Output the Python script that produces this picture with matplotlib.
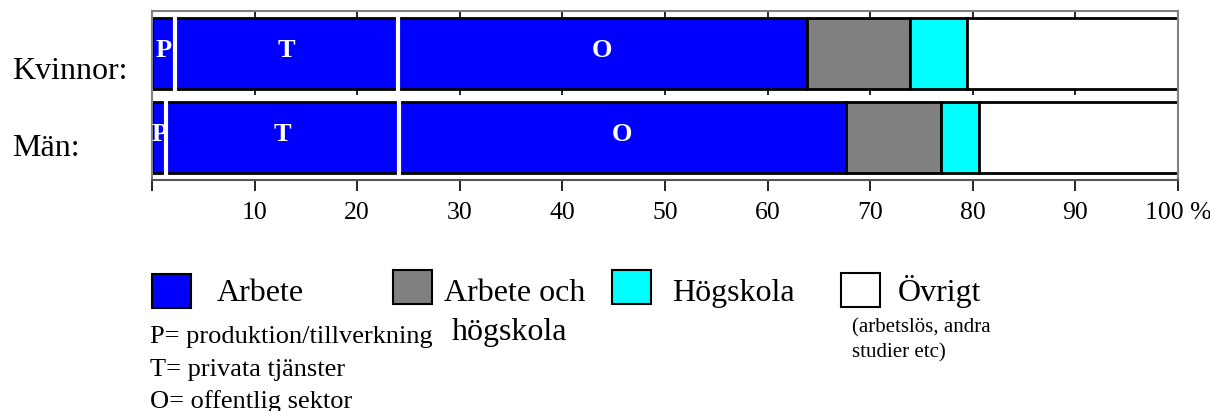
import matplotlib
matplotlib.use("Agg")
from matplotlib import pyplot as plt
from matplotlib.patches import Rectangle
import numpy as np

plt.rcParams['font.family'] = ['Liberation Serif', 'DejaVu Serif']

# data (percent)
rows = ["Kvinnor:", "Män:"]
sectors = ["P", "T", "O"]
arbete_kvinnor = [2.2, 21.8, 39.8]
arbete_man = [1.4, 22.7, 43.5]
arbete_hogskola = [10.1, 9.3]
hogskola = [5.5, 3.7]
ovrigt = [20.6, 19.4]

colors = {"Arbete": "#0000ff", "Arbete och högskola": "#808080",
          "Högskola": "#00ffff", "Övrigt": "#ffffff"}

fig = plt.figure(figsize=(12.1, 4.11), dpi=100)
ax = fig.add_axes([152 / 1210, 1 - 180 / 411, (1178 - 152) / 1210, 169 / 411])

ypos = [1, 0]
h = 0.84
arbete = [arbete_kvinnor, arbete_man]
for i, y in enumerate(ypos):
    left = 0
    bounds = []
    for lab, w in zip(sectors, arbete[i]):
        ax.barh(y, w, left=left, height=h, color=colors["Arbete"],
                edgecolor="black", linewidth=2, zorder=2)
        ax.text(left + w / 2, y + 0.04, lab, color="white", ha="center",
                va="center", fontsize=19, fontweight="bold", zorder=4)
        left += w
        bounds.append(left)
    # white separators inside the blue part
    ax.vlines(bounds[:2], y - h / 2 - 0.02, y + h / 2 + 0.02, color="white",
              linewidth=3, zorder=3)
    for key, vals in [("Arbete och högskola", arbete_hogskola),
                      ("Högskola", hogskola), ("Övrigt", ovrigt)]:
        ax.barh(y, vals[i], left=left, height=h, color=colors[key],
                edgecolor="black", linewidth=2, zorder=2)
        left += vals[i]

ax.set_xlim(0, 100)
ax.set_ylim(-0.5, 1.503)
ticks = np.arange(0, 101, 10)
ax.set_xticks(ticks)
ax.set_xticklabels([""] + [str(t) for t in ticks[1:-1]] + ["100 %"], fontsize=18.5)
ax.tick_params(axis="x", direction="out", length=8, width=1.2, pad=8,
               top=True)
for t in ax.xaxis.get_major_ticks():
    t.tick2line.set_marker(3)  # top ticks pointing down (inward)
    t.tick2line.set_markersize(8)
ax.set_yticks([])
for s in ax.spines.values():
    s.set_color("#808080")
    s.set_linewidth(1.5)
ax.spines["bottom"].set_color("#555555")

# small marks between the bars
ax.vlines(ticks[1:-1], 0.508, 0.568, color="black", linewidth=1.2, zorder=1)

# row labels
for lab, yb in zip(rows, [79, 156]):
    fig.text(12 / 1210, 1 - yb / 411, lab, fontsize=23, va="baseline", ha="left")

# legend area in pixel coords
lg = fig.add_axes([0, 0, 1, 1], zorder=5)
lg.set_xlim(0, 1210)
lg.set_ylim(411, 0)
lg.axis("off")
lg.patch.set_alpha(0)

patches = [("Arbete", 152, 274, 217), ("Arbete och högskola", 393, 270, 444),
           ("Högskola", 612, 270, 672), ("Övrigt", 841, 273, 898)]
for key, px, py, tx in patches:
    lg.add_patch(Rectangle((px, py), 39, 34, facecolor=colors[key],
                           edgecolor="black", linewidth=1.5))
    txt = "Arbete och" if key == "Arbete och högskola" else key
    lg.text(tx, 301, txt, fontsize=23, va="baseline", ha="left")
lg.text(452, 340, "högskola", fontsize=23, va="baseline", ha="left")
lg.text(852, 332, "(arbetslös, andra", fontsize=15, va="baseline", ha="left")
lg.text(852, 357, "studier etc)", fontsize=15, va="baseline", ha="left")
for line, yb in zip(["P= produktion/tillverkning", "T= privata tjänster",
                     "O= offentlig sektor"], [343, 376, 408]):
    lg.text(150, yb, line, fontsize=19, va="baseline", ha="left")

fig.savefig("out.png", dpi=100)
